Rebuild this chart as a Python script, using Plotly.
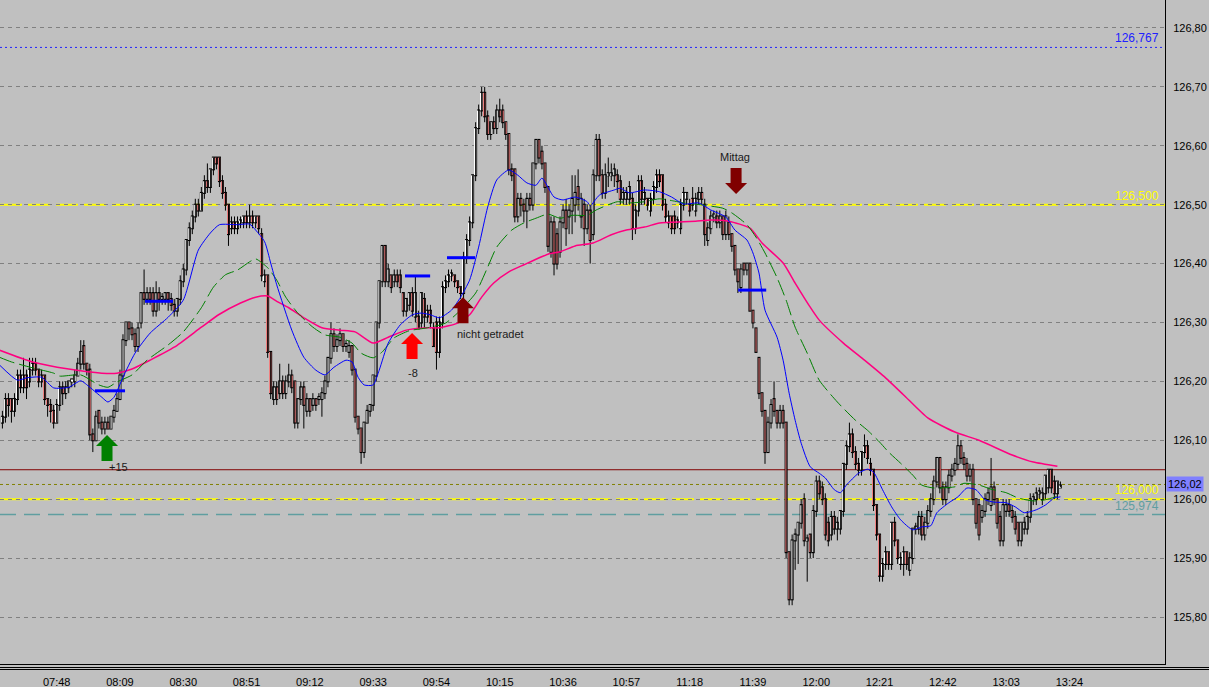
import pandas as pd
import plotly.graph_objects as go

# --- 1-Minuten-Kerzen, Werte ---
DAY = "2013-06-14"
PX_PER_MIN = 3.014      # Pixel pro Kerze
PX_PER_PRICE = 589.0    # Pixel pro 1,00 Punkt

opens = [
    126.13, 126.14, 126.17, 126.17, 126.15, 126.17, 126.21, 126.19, 126.21, 126.20,
    126.22, 126.23, 126.22, 126.20, 126.21, 126.17, 126.16, 126.15, 126.13, 126.16,
    126.19, 126.18, 126.19, 126.20, 126.20, 126.21, 126.23, 126.26, 126.23, 126.22,
    126.11, 126.10, 126.15, 126.13, 126.12, 126.13, 126.12, 126.14, 126.15, 126.17,
    126.21, 126.27, 126.30, 126.29, 126.28, 126.26, 126.30, 126.35, 126.34, 126.35,
    126.35, 126.32, 126.35, 126.34, 126.34, 126.35, 126.34, 126.33, 126.32, 126.34,
    126.37, 126.39, 126.44, 126.46, 126.48, 126.50, 126.49, 126.52, 126.54, 126.53,
    126.56, 126.58, 126.58, 126.54, 126.52, 126.50, 126.46, 126.47, 126.46, 126.47,
    126.47, 126.48, 126.47, 126.48, 126.47, 126.48, 126.45, 126.37, 126.38, 126.25,
    126.17, 126.19, 126.18, 126.20, 126.18, 126.20, 126.21, 126.20, 126.13, 126.17,
    126.19, 126.15, 126.17, 126.16, 126.17, 126.17, 126.17, 126.18, 126.20, 126.24,
    126.28, 126.26, 126.27, 126.28, 126.26, 126.25, 126.26, 126.22, 126.14, 126.12,
    126.08, 126.13, 126.15, 126.16, 126.21, 126.30, 126.37, 126.43, 126.37, 126.38,
    126.37, 126.38, 126.38, 126.35, 126.32, 126.33, 126.35, 126.31, 126.31, 126.30,
    126.34, 126.31, 126.32, 126.29, 126.30, 126.25, 126.30, 126.36, 126.37, 126.38,
    126.38, 126.37, 126.36, 126.35, 126.41, 126.44, 126.47, 126.55, 126.63, 126.66,
    126.69, 126.65, 126.62, 126.64, 126.63, 126.66, 126.66, 126.64, 126.62, 126.56,
    126.56, 126.48, 126.51, 126.50, 126.49, 126.51, 126.50, 126.57, 126.61, 126.59,
    126.57, 126.53, 126.42, 126.47, 126.45, 126.42, 126.47, 126.49, 126.48, 126.49,
    126.50, 126.53, 126.48, 126.50, 126.46, 126.49, 126.45, 126.55, 126.61, 126.55,
    126.52, 126.55, 126.55, 126.55, 126.55, 126.54, 126.51, 126.51, 126.51, 126.51,
    126.46, 126.49, 126.54, 126.51, 126.51, 126.49, 126.51, 126.53, 126.55, 126.55,
    126.50, 126.47, 126.48, 126.48, 126.47, 126.46, 126.50, 126.51, 126.50, 126.51,
    126.49, 126.51, 126.52, 126.50, 126.44, 126.46, 126.48, 126.48, 126.47, 126.48,
    126.45, 126.47, 126.45, 126.43, 126.39, 126.36, 126.40, 126.39, 126.40, 126.32,
    126.29, 126.24, 126.18, 126.15, 126.08, 126.13, 126.17, 126.15, 126.13, 126.15,
    126.13, 125.91, 125.83, 125.93, 125.94, 125.96, 126.00, 125.93, 125.94, 125.91,
    125.98, 126.03, 126.02, 126.00, 125.96, 125.94, 125.97, 125.95, 125.95, 125.98,
    126.06, 126.09, 126.11, 126.08, 126.06, 126.05, 126.08, 126.09, 126.06, 126.05,
    125.99, 125.94, 125.87, 125.89, 125.91, 125.89, 125.96, 125.93, 125.89, 125.89,
    125.91, 125.88, 125.90, 125.95, 125.95, 125.97, 125.94, 125.96, 125.98, 126.00,
    126.03, 126.07, 126.02, 126.00, 126.02, 126.04, 126.05, 126.06, 126.09, 126.07,
    126.06, 126.04, 126.05, 126.00, 125.99, 125.97, 125.98, 126.00, 125.99, 126.02,
    126.00, 125.97, 125.93, 125.98, 125.99, 125.98, 125.97, 125.96, 125.93, 125.95,
    125.95, 125.97, 126.00, 126.00, 126.01, 126.00, 126.01, 126.02, 126.05, 126.03,
    126.01, 126.02,
]
highs = [
    126.15, 126.18, 126.18, 126.17, 126.18, 126.22, 126.22, 126.24, 126.22, 126.24,
    126.24, 126.24, 126.22, 126.22, 126.21, 126.17, 126.17, 126.16, 126.17, 126.20,
    126.20, 126.20, 126.20, 126.20, 126.22, 126.24, 126.27, 126.27, 126.23, 126.23,
    126.12, 126.15, 126.15, 126.14, 126.14, 126.14, 126.14, 126.16, 126.18, 126.22,
    126.28, 126.30, 126.30, 126.30, 126.29, 126.30, 126.35, 126.39, 126.36, 126.36,
    126.36, 126.37, 126.36, 126.35, 126.35, 126.35, 126.35, 126.34, 126.34, 126.38,
    126.40, 126.44, 126.47, 126.49, 126.51, 126.51, 126.53, 126.55, 126.57, 126.56,
    126.58, 126.58, 126.58, 126.55, 126.53, 126.50, 126.48, 126.48, 126.48, 126.48,
    126.48, 126.49, 126.50, 126.49, 126.48, 126.48, 126.46, 126.39, 126.38, 126.25,
    126.20, 126.20, 126.23, 126.21, 126.21, 126.23, 126.22, 126.20, 126.17, 126.20,
    126.20, 126.18, 126.17, 126.18, 126.17, 126.18, 126.19, 126.21, 126.24, 126.30,
    126.29, 126.28, 126.29, 126.28, 126.27, 126.27, 126.26, 126.22, 126.14, 126.12,
    126.13, 126.16, 126.16, 126.21, 126.30, 126.37, 126.43, 126.43, 126.40, 126.38,
    126.39, 126.39, 126.39, 126.35, 126.34, 126.35, 126.36, 126.38, 126.32, 126.35,
    126.35, 126.33, 126.33, 126.30, 126.31, 126.31, 126.37, 126.38, 126.39, 126.39,
    126.38, 126.37, 126.36, 126.42, 126.45, 126.48, 126.55, 126.64, 126.67, 126.70,
    126.70, 126.66, 126.64, 126.65, 126.67, 126.68, 126.67, 126.64, 126.62, 126.57,
    126.56, 126.52, 126.52, 126.51, 126.52, 126.52, 126.57, 126.61, 126.61, 126.60,
    126.57, 126.53, 126.48, 126.48, 126.46, 126.48, 126.50, 126.51, 126.50, 126.55,
    126.55, 126.56, 126.52, 126.51, 126.50, 126.50, 126.56, 126.62, 126.62, 126.56,
    126.57, 126.58, 126.57, 126.57, 126.56, 126.55, 126.53, 126.53, 126.54, 126.52,
    126.50, 126.55, 126.55, 126.53, 126.51, 126.52, 126.54, 126.56, 126.56, 126.55,
    126.51, 126.49, 126.48, 126.49, 126.48, 126.51, 126.53, 126.52, 126.51, 126.53,
    126.52, 126.53, 126.53, 126.51, 126.47, 126.49, 126.49, 126.49, 126.49, 126.48,
    126.49, 126.48, 126.45, 126.43, 126.39, 126.40, 126.40, 126.40, 126.40, 126.32,
    126.29, 126.24, 126.18, 126.15, 126.14, 126.17, 126.20, 126.15, 126.16, 126.16,
    126.13, 125.91, 125.94, 125.95, 125.96, 126.00, 126.01, 125.94, 125.94, 125.99,
    126.04, 126.04, 126.03, 126.01, 125.97, 125.98, 125.98, 125.97, 125.98, 126.06,
    126.10, 126.13, 126.12, 126.09, 126.07, 126.08, 126.11, 126.10, 126.07, 126.05,
    125.99, 125.94, 125.90, 125.92, 125.91, 125.96, 125.97, 125.93, 125.91, 125.92,
    125.91, 125.91, 125.95, 125.96, 125.98, 125.98, 125.97, 125.99, 126.01, 126.04,
    126.07, 126.07, 126.03, 126.03, 126.05, 126.06, 126.07, 126.11, 126.10, 126.08,
    126.07, 126.06, 126.06, 126.00, 126.00, 125.99, 126.01, 126.02, 126.07, 126.03,
    126.00, 125.98, 126.00, 126.00, 126.00, 125.99, 125.98, 125.96, 125.96, 125.97,
    125.98, 126.01, 126.01, 126.02, 126.02, 126.02, 126.04, 126.05, 126.05, 126.04,
    126.03, 126.03,
]
lows = [
    126.12, 126.13, 126.14, 126.13, 126.14, 126.16, 126.18, 126.18, 126.17, 126.19,
    126.21, 126.21, 126.19, 126.19, 126.16, 126.14, 126.13, 126.12, 126.13, 126.15,
    126.16, 126.17, 126.18, 126.19, 126.19, 126.21, 126.22, 126.22, 126.21, 126.10,
    126.08, 126.10, 126.12, 126.11, 126.11, 126.12, 126.12, 126.13, 126.15, 126.17,
    126.20, 126.26, 126.27, 126.27, 126.25, 126.25, 126.29, 126.33, 126.33, 126.33,
    126.31, 126.31, 126.32, 126.33, 126.33, 126.32, 126.32, 126.31, 126.31, 126.33,
    126.36, 126.38, 126.43, 126.45, 126.47, 126.48, 126.49, 126.51, 126.52, 126.52,
    126.55, 126.56, 126.53, 126.51, 126.49, 126.43, 126.45, 126.45, 126.45, 126.46,
    126.46, 126.46, 126.46, 126.46, 126.46, 126.45, 126.37, 126.36, 126.24, 126.17,
    126.16, 126.16, 126.17, 126.17, 126.17, 126.19, 126.18, 126.12, 126.12, 126.16,
    126.12, 126.14, 126.14, 126.15, 126.15, 126.16, 126.14, 126.17, 126.19, 126.23,
    126.25, 126.25, 126.26, 126.25, 126.25, 126.24, 126.21, 126.13, 126.11, 126.06,
    126.07, 126.13, 126.14, 126.15, 126.20, 126.29, 126.36, 126.36, 126.36, 126.35,
    126.36, 126.36, 126.35, 126.31, 126.31, 126.32, 126.31, 126.30, 126.29, 126.29,
    126.29, 126.30, 126.29, 126.26, 126.22, 126.24, 126.29, 126.35, 126.36, 126.37,
    126.36, 126.35, 126.34, 126.34, 126.40, 126.43, 126.46, 126.54, 126.62, 126.65,
    126.64, 126.61, 126.61, 126.62, 126.62, 126.64, 126.63, 126.61, 126.55, 126.54,
    126.47, 126.47, 126.48, 126.47, 126.46, 126.49, 126.49, 126.56, 126.57, 126.56,
    126.52, 126.42, 126.41, 126.38, 126.39, 126.41, 126.46, 126.43, 126.45, 126.45,
    126.47, 126.49, 126.46, 126.43, 126.45, 126.40, 126.44, 126.54, 126.54, 126.51,
    126.51, 126.53, 126.54, 126.53, 126.52, 126.50, 126.50, 126.50, 126.50, 126.44,
    126.45, 126.48, 126.50, 126.50, 126.49, 126.48, 126.50, 126.52, 126.53, 126.49,
    126.47, 126.46, 126.45, 126.45, 126.46, 126.45, 126.49, 126.50, 126.48, 126.49,
    126.48, 126.50, 126.50, 126.43, 126.43, 126.45, 126.47, 126.46, 126.46, 126.44,
    126.44, 126.44, 126.42, 126.38, 126.35, 126.35, 126.38, 126.38, 126.32, 126.29,
    126.25, 126.17, 126.14, 126.06, 126.08, 126.12, 126.14, 126.12, 126.12, 126.12,
    125.90, 125.82, 125.82, 125.88, 125.89, 125.95, 125.92, 125.86, 125.90, 125.90,
    125.97, 126.00, 125.99, 125.93, 125.92, 125.93, 125.94, 125.93, 125.94, 125.97,
    126.05, 126.08, 126.07, 126.05, 126.04, 126.04, 126.07, 126.06, 126.04, 125.98,
    125.93, 125.86, 125.86, 125.88, 125.88, 125.88, 125.92, 125.89, 125.88, 125.87,
    125.88, 125.87, 125.89, 125.94, 125.94, 125.93, 125.93, 125.95, 125.97, 125.99,
    126.02, 126.01, 125.99, 125.99, 126.01, 126.03, 126.04, 126.05, 126.06, 126.05,
    126.03, 126.03, 125.99, 125.95, 125.93, 125.96, 125.97, 125.99, 125.98, 125.99,
    125.95, 125.92, 125.92, 125.97, 125.97, 125.96, 125.94, 125.92, 125.92, 125.94,
    125.94, 125.96, 125.99, 125.99, 126.00, 125.99, 126.00, 126.01, 126.01, 126.00,
    126.00, 126.02,
]
closes = [
    126.14, 126.17, 126.16, 126.15, 126.17, 126.21, 126.19, 126.21, 126.19, 126.22,
    126.23, 126.22, 126.20, 126.21, 126.17, 126.16, 126.15, 126.13, 126.16, 126.19,
    126.18, 126.19, 126.20, 126.20, 126.21, 126.23, 126.25, 126.23, 126.22, 126.11,
    126.10, 126.14, 126.13, 126.12, 126.13, 126.12, 126.14, 126.15, 126.17, 126.21,
    126.27, 126.30, 126.29, 126.28, 126.26, 126.29, 126.35, 126.34, 126.35, 126.34,
    126.32, 126.35, 126.34, 126.34, 126.35, 126.34, 126.33, 126.32, 126.34, 126.37,
    126.39, 126.44, 126.46, 126.48, 126.50, 126.49, 126.52, 126.54, 126.53, 126.56,
    126.58, 126.57, 126.54, 126.52, 126.50, 126.45, 126.47, 126.46, 126.47, 126.47,
    126.48, 126.47, 126.48, 126.47, 126.48, 126.46, 126.38, 126.38, 126.25, 126.18,
    126.19, 126.17, 126.20, 126.18, 126.20, 126.21, 126.19, 126.13, 126.17, 126.19,
    126.16, 126.17, 126.15, 126.17, 126.16, 126.17, 126.18, 126.20, 126.24, 126.28,
    126.26, 126.27, 126.28, 126.26, 126.26, 126.26, 126.22, 126.14, 126.12, 126.08,
    126.13, 126.15, 126.16, 126.21, 126.30, 126.37, 126.43, 126.37, 126.39, 126.36,
    126.38, 126.37, 126.36, 126.32, 126.34, 126.35, 126.32, 126.35, 126.29, 126.35,
    126.31, 126.32, 126.30, 126.26, 126.25, 126.30, 126.36, 126.37, 126.38, 126.38,
    126.37, 126.36, 126.35, 126.41, 126.44, 126.47, 126.55, 126.63, 126.66, 126.69,
    126.65, 126.62, 126.64, 126.63, 126.66, 126.65, 126.64, 126.62, 126.56, 126.55,
    126.48, 126.51, 126.50, 126.49, 126.51, 126.50, 126.57, 126.61, 126.58, 126.57,
    126.53, 126.43, 126.47, 126.40, 126.40, 126.47, 126.49, 126.46, 126.49, 126.51,
    126.52, 126.51, 126.51, 126.46, 126.49, 126.44, 126.55, 126.61, 126.55, 126.52,
    126.55, 126.55, 126.55, 126.56, 126.54, 126.51, 126.52, 126.52, 126.53, 126.46,
    126.49, 126.54, 126.51, 126.52, 126.50, 126.51, 126.53, 126.55, 126.54, 126.50,
    126.48, 126.48, 126.46, 126.46, 126.47, 126.50, 126.52, 126.52, 126.49, 126.50,
    126.51, 126.52, 126.51, 126.45, 126.46, 126.48, 126.48, 126.47, 126.48, 126.45,
    126.48, 126.45, 126.43, 126.39, 126.37, 126.39, 126.39, 126.40, 126.32, 126.30,
    126.25, 126.18, 126.15, 126.08, 126.13, 126.16, 126.15, 126.13, 126.15, 126.13,
    125.91, 125.83, 125.93, 125.94, 125.96, 125.99, 125.93, 125.93, 125.91, 125.98,
    126.03, 126.01, 126.00, 125.94, 125.93, 125.97, 125.95, 125.96, 125.98, 126.06,
    126.09, 126.11, 126.08, 126.06, 126.05, 126.08, 126.09, 126.07, 126.05, 125.99,
    125.94, 125.87, 125.89, 125.91, 125.89, 125.96, 125.93, 125.90, 125.90, 125.91,
    125.89, 125.90, 125.95, 125.95, 125.97, 125.94, 125.96, 125.98, 126.00, 126.03,
    126.07, 126.02, 126.00, 126.02, 126.04, 126.05, 126.06, 126.09, 126.07, 126.06,
    126.04, 126.05, 126.00, 125.96, 125.94, 125.98, 126.00, 126.01, 126.02, 126.00,
    125.96, 125.93, 125.99, 125.99, 125.98, 125.97, 125.95, 125.93, 125.96, 125.96,
    125.97, 126.00, 126.00, 126.01, 126.01, 126.01, 126.04, 126.05, 126.02, 126.01,
    126.03, 126.02,
]

# --- gleitende Durchschnitte ---
fast_t = ["07:29", "07:35", "07:38", "07:43", "07:47", "07:52", "07:56", "07:59", "08:03", "08:05",
          "08:07", "08:10", "08:14", "08:19", "08:25", "08:30", "08:35", "08:39", "08:42", "08:48",
          "08:52", "08:54", "08:57", "08:59", "09:01", "09:06", "09:10", "09:14", "09:17", "09:20",
          "09:24", "09:26", "09:28", "09:30", "09:33", "09:35", "09:38", "09:42", "09:46", "09:49",
          "09:52", "09:55", "09:59", "10:02", "10:05", "10:08", "10:11", "10:14", "10:18", "10:21",
          "10:24", "10:27", "10:29", "10:33", "10:36", "10:40", "10:44", "10:45", "10:48", "10:53",
          "10:55", "10:58", "11:03", "11:08", "11:12", "11:16", "11:21", "11:25", "11:30", "11:33",
          "11:37", "11:39", "11:41", "11:43", "11:47", "11:49", "11:51", "11:53", "11:55", "11:58",
          "12:01", "12:03", "12:06", "12:08", "12:10", "12:14", "12:17", "12:19", "12:22", "12:25",
          "12:28", "12:32", "12:35", "12:38", "12:40", "12:44", "12:47", "12:50", "12:53", "12:56",
          "12:59", "13:03", "13:06", "13:09", "13:13", "13:16", "13:19", "13:21"]
fast_v = [126.228, 126.202, 126.206, 126.207, 126.189, 126.190, 126.201, 126.190, 126.173, 126.165,
          126.173, 126.207, 126.248, 126.282, 126.309, 126.338, 126.423, 126.452, 126.466, 126.466,
          126.467, 126.457, 126.437, 126.401, 126.364, 126.287, 126.241, 126.219, 126.211, 126.224,
          126.236, 126.233, 126.207, 126.194, 126.194, 126.219, 126.265, 126.296, 126.313, 126.316,
          126.313, 126.308, 126.321, 126.343, 126.372, 126.428, 126.496, 126.542, 126.559, 126.550,
          126.537, 126.533, 126.545, 126.513, 126.508, 126.513, 126.505, 126.498, 126.516, 126.525,
          126.528, 126.520, 126.525, 126.522, 126.513, 126.501, 126.503, 126.491, 126.479, 126.457,
          126.440, 126.418, 126.384, 126.321, 126.275, 126.236, 126.180, 126.134, 126.095, 126.055,
          126.044, 126.036, 126.016, 126.011, 126.024, 126.044, 126.051, 126.046, 126.016, 125.987,
          125.965, 125.948, 125.953, 125.955, 125.977, 125.994, 126.004, 126.019, 126.016, 125.999,
          125.995, 125.994, 125.987, 125.977, 125.982, 125.990, 126.002, 126.004]

mid_t = ["07:29", "07:33", "07:40", "07:47", "07:49", "07:56", "08:02", "08:05", "08:08", "08:13",
         "08:18", "08:25", "08:30", "08:36", "08:40", "08:44", "08:48", "08:52", "08:54", "08:58",
         "09:01", "09:04", "09:08", "09:13", "09:17", "09:22", "09:26", "09:29", "09:33", "09:36",
         "09:40", "09:45", "09:51", "09:57", "10:02", "10:07", "10:11", "10:14", "10:19", "10:23",
         "10:27", "10:31", "10:35", "10:39", "10:44", "10:47", "10:54", "10:58", "11:03", "11:08",
         "11:13", "11:16", "11:23", "11:29", "11:32", "11:37", "11:40", "11:43", "11:47", "11:50",
         "11:53", "11:57", "12:01", "12:07", "12:13", "12:17", "12:21", "12:24", "12:28", "12:32",
         "12:35", "12:39", "12:46", "12:49", "12:54", "12:58", "13:03", "13:07", "13:12", "13:16",
         "13:20"]
mid_v = [126.241, 126.233, 126.223, 126.214, 126.209, 126.211, 126.194, 126.190, 126.199, 126.211,
         126.236, 126.262, 126.284, 126.325, 126.360, 126.381, 126.389, 126.403, 126.408, 126.393,
         126.372, 126.343, 126.316, 126.292, 126.279, 126.275, 126.265, 126.248, 126.240, 126.250,
         126.274, 126.286, 126.291, 126.299, 126.321, 126.350, 126.394, 126.428, 126.457, 126.469,
         126.477, 126.484, 126.477, 126.482, 126.482, 126.491, 126.505, 126.503, 126.505, 126.510,
         126.506, 126.503, 126.499, 126.494, 126.486, 126.466, 126.445, 126.418, 126.376, 126.338,
         126.292, 126.248, 126.202, 126.165, 126.134, 126.117, 126.097, 126.080, 126.061, 126.041,
         126.024, 126.019, 126.021, 126.027, 126.024, 126.017, 126.011, 126.002, 125.997, 125.999,
         126.005]

slow_t = ["07:29", "07:40", "07:52", "08:03", "08:08", "08:13", "08:19", "08:27", "08:36", "08:42",
          "08:49", "08:54", "08:58", "09:01", "09:05", "09:10", "09:16", "09:22", "09:27", "09:33",
          "09:38", "09:44", "09:51", "09:55", "10:01", "10:05", "10:09", "10:13", "10:18", "10:23",
          "10:31", "10:35", "10:40", "10:46", "10:52", "10:57", "11:03", "11:08", "11:16", "11:20",
          "11:25", "11:31", "11:38", "11:42", "11:49", "11:53", "11:58", "12:01", "12:09", "12:16",
          "12:23", "12:29", "12:37", "12:46", "12:54", "13:05", "13:12", "13:20"]
slow_v = [126.253, 126.233, 126.221, 126.214, 126.214, 126.221, 126.236, 126.258, 126.292, 126.314,
          126.333, 126.343, 126.345, 126.336, 126.325, 126.308, 126.291, 126.287, 126.284, 126.265,
          126.275, 126.287, 126.291, 126.291, 126.299, 126.313, 126.343, 126.367, 126.386, 126.398,
          126.416, 126.420, 126.430, 126.435, 126.449, 126.457, 126.462, 126.469, 126.471, 126.472,
          126.474, 126.472, 126.460, 126.435, 126.401, 126.367, 126.326, 126.304, 126.265, 126.236,
          126.206, 126.177, 126.138, 126.114, 126.100, 126.075, 126.063, 126.056]

# --- Marken im Chart ---
trade_start = ["08:00:43", "08:17:18", "09:43:34", "09:57:30", "11:34:06"]
trade_end = ["08:10:41", "08:26:36", "09:51:54", "10:06:48", "11:43:24"]
trade_price = [126.184, 126.336, 126.379, 126.410, 126.355]

arrow_time = ["08:04:42", "09:45:54", "10:02:48", "11:33:24"]
arrow_tip = [126.109, 126.282, 126.343, 126.518]
arrow_up = [True, True, True, False]
arrow_color = ["#008000", "#ff0000", "#800000", "#800000"]

note_text = ["+15", "-8", "nicht getradet", "Mittag"]
note_time = ["08:08:23", "09:46:12", "10:11:48", "11:33:00"]
note_price = [126.055, 126.214, 126.280, 126.581]

level_value = [126.767, 126.500, 126.000, 125.974]
level_text = ["126,767", "126,500", "126,000", "125,974"]
level_color = ["#2020ff", "#ffff00", "#ffff00", "#5f9ea0"]
level_dash = ["2px,3px", "22px,6px", "22px,6px", "16px,8px"]
level_width = [1, 2, 2, 1.5]

last_price = 126.02
day_high = 126.05
ticks_time = ["07:27", "07:48", "08:09", "08:30", "08:51", "09:12", "09:33", "09:54", "10:15",
              "10:36", "10:57", "11:18", "11:39", "12:00", "12:21", "12:42", "13:03", "13:24"]

PLOT_H = 670            # Zeichenfläche inkl. Doppellinie unten
AXIS_GAP = 6            # Abstand Achse -> unterste Linie


def ts(t):
    return pd.Timestamp(f"{DAY} {t}")


times = pd.date_range(ts("07:30"), periods=len(closes), freq="min")

fig = go.Figure()

# Dochte
wx, wy = [], []
for t, hi, lo in zip(times, highs, lows):
    wx += [t, t, None]
    wy += [lo, hi, None]
fig.add_trace(go.Scatter(x=wx, y=wy, mode="lines", line=dict(color="black", width=1),
                         hoverinfo="skip"))

# Kerzenkörper: schwarzer Rahmen, innen weiß (steigend) bzw. rosa (fallend)
one_px = 1 / PX_PER_PRICE
body_base = [min(o, c) for o, c in zip(opens, closes)]
body_len = [max(abs(c - o), 2 * one_px) for o, c in zip(opens, closes)]
body_col = ["white" if c >= o else "#f08080" for o, c in zip(opens, closes)]
fig.add_trace(go.Bar(
    x=times, y=[b + 2 * one_px for b in body_len], base=[b - one_px for b in body_base],
    width=1.0 * 60000, marker=dict(color="black", line=dict(width=0)),
    hoverinfo="skip",
))
fig.add_trace(go.Bar(
    x=times, y=[max(b - 0.2 * one_px, 0) for b in body_len],
    base=[b + 0.1 * one_px for b in body_base],
    width=0.46 * 60000, marker=dict(color=body_col, line=dict(width=0)),
    hoverinfo="skip",
))

for tt, vv, col, w, dash in [(slow_t, slow_v, "#ff0080", 1.5, "solid"),
                              (mid_t, mid_v, "#008000", 1, "16px,5px"),
                              (fast_t, fast_v, "#0000ff", 1, "solid")]:
    fig.add_trace(go.Scatter(
        x=[ts(t) for t in tt], y=vv, mode="lines",
        line=dict(color=col, width=w, dash=dash, shape="spline", smoothing=0.6),
        hoverinfo="skip",
    ))

# kurze blaue Trade-Linien
for a, b, p in zip(trade_start, trade_end, trade_price):
    fig.add_trace(go.Scatter(x=[ts(a), ts(b)], y=[p, p], mode="lines",
                             line=dict(color="#0000ff", width=3), hoverinfo="skip"))

# Blockpfeile (Form in Pixeln, Lage aus den Daten)
outline = [(0, 0), (11, 11), (5.5, 11), (5.5, 26), (-5.5, 26), (-5.5, 11), (-11, 11), (0, 0)]
for t, p, up, col in zip(arrow_time, arrow_tip, arrow_up, arrow_color):
    sgn = -1 if up else 1
    fig.add_trace(go.Scatter(
        x=[ts(t) + pd.Timedelta(minutes=dx / PX_PER_MIN) for dx, dy in outline],
        y=[p + sgn * dy / PX_PER_PRICE for dx, dy in outline],
        mode="lines", fill="toself", fillcolor=col, line=dict(width=0),
        hoverinfo="skip",
    ))

for txt, t, p in zip(note_text, note_time, note_price):
    fig.add_annotation(x=ts(t), y=p, text=txt, showarrow=False,
                       font=dict(size=11, color="#1a1a1a"))

shapes = []
for v, col, dash, w in zip(level_value, level_color, level_dash, level_width):
    shapes.append(dict(type="line", xref="paper", x0=0, x1=1, yref="y", y0=v, y1=v,
                       line=dict(color=col, width=w, dash=dash), layer="between"))
shapes.append(dict(type="line", xref="paper", x0=0, x1=1, yref="y", y0=day_high, y1=day_high,
                   line=dict(color="#800000", width=1), layer="between"))
shapes.append(dict(type="line", xref="paper", x0=0, x1=1, yref="y", y0=126.025, y1=126.025,
                   line=dict(color="#808000", width=1, dash="3px,3px"), layer="between"))
# Doppellinie unter der Zeitachse
for yp in (2.5 / PLOT_H, 0.5 / PLOT_H):
    shapes.append(dict(type="line", xref="paper", x0=0, x1=1209 / 1165, yref="paper",
                       y0=yp, y1=yp, line=dict(color="black", width=1), layer="above"))

for v, txt, col in zip(level_value, level_text, level_color):
    fig.add_annotation(xref="paper", x=1, xanchor="right", xshift=-4, y=v, yanchor="bottom",
                       yshift=0, text=txt, showarrow=False, font=dict(size=12, color=col))

fig.add_annotation(xref="paper", x=1, xanchor="left", xshift=1, y=126.025, text="126,02",
                   showarrow=False, bgcolor="#8080ff", borderpad=1,
                   font=dict(size=11, color="black"))

fig.update_layout(
    width=1209, height=687,
    margin=dict(l=0, r=44, t=0, b=687 - PLOT_H),
    paper_bgcolor="#c0c0c0", plot_bgcolor="#c0c0c0",
    showlegend=False, separators=",.", barmode="overlay",
    font=dict(family="Liberation Sans, Arial, sans-serif", size=11, color="black"),
    shapes=shapes,
    xaxis=dict(
        type="date", range=[ts("07:29:12"), ts("13:55:42")],
        showgrid=False, zeroline=False,
        showline=True, linecolor="black", linewidth=1,
        tickvals=[ts(t) for t in ticks_time], tickformat="%H:%M", ticks="",
        ticklabelstandoff=8, tickfont=dict(size=11),
    ),
    yaxis=dict(
        domain=[AXIS_GAP / PLOT_H, 1],
        side="right", range=[125.7202, 126.8475], dtick=0.1, tick0=125.8,
        tickformat=".2f", showgrid=True, gridcolor="#808080", griddash="4px,4px",
        gridwidth=1, zeroline=False, showline=True, linecolor="black", linewidth=1,
        ticks="", ticklabelstandoff=5, tickfont=dict(size=11),
    ),
)

fig.write_html("out.html", config={"displayModeBar": False},
               post_script="document.body.style.margin='0px';")
